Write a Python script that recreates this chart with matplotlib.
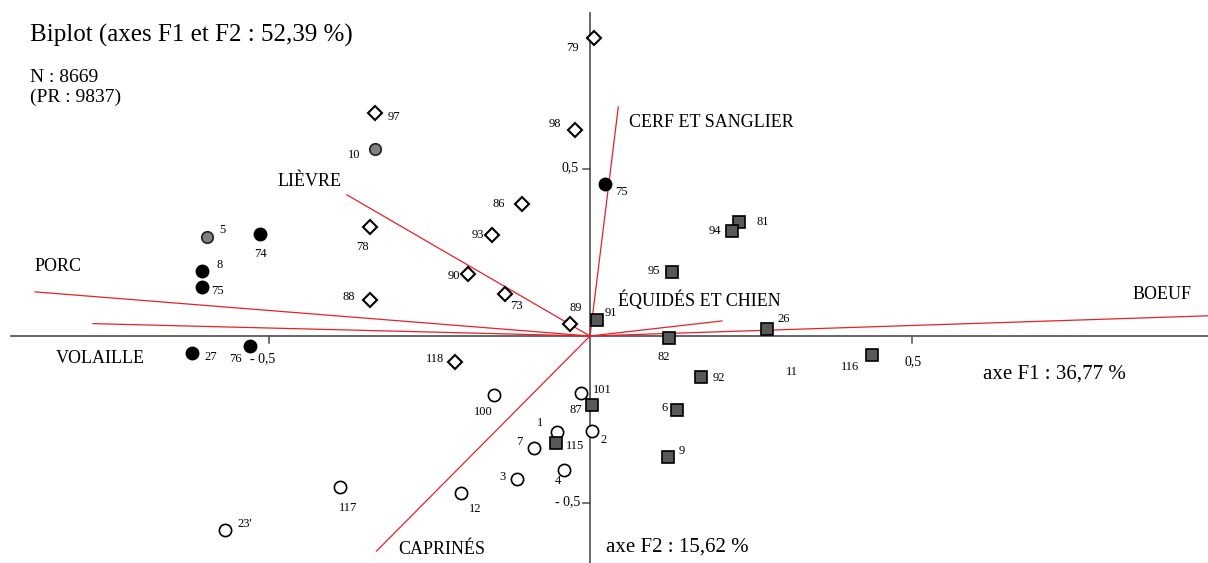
import matplotlib.pyplot as plt

plt.rcParams["font.family"] = "Liberation Serif"

# --- echantillons (coordonnees F1, F2) ---
noir_lab = ["74", "8", "75", "27", "76", "75"]
noir_f1 = [-0.513, -0.604, -0.604, -0.619, -0.529, 0.023]
noir_f2 = [0.304, 0.195, 0.146, -0.052, -0.029, 0.454]

gris_lab = ["5", "10"]
gris_f1 = [-0.595, -0.334]
gris_f2 = [0.295, 0.558]

losange_lab = ["97", "79", "98", "86", "93", "78", "90", "73", "88", "89", "118"]
losange_f1 = [-0.335, 0.006, -0.023, -0.106, -0.153, -0.342, -0.189, -0.132, -0.342, -0.031, -0.210]
losange_f2 = [0.668, 0.892, 0.616, 0.396, 0.301, 0.327, 0.185, 0.126, 0.108, 0.035, -0.079]

cercle_lab = ["101", "100", "1", "2", "7", "4", "3", "12", "117", "23'"]
cercle_f1 = [-0.014, -0.150, -0.052, 0.003, -0.087, -0.040, -0.113, -0.201, -0.389, -0.568]
cercle_f2 = [-0.170, -0.176, -0.286, -0.284, -0.336, -0.402, -0.429, -0.469, -0.451, -0.580]

carre_lab = ["81", "94", "95", "91", "82", "26", "116", "92", "6", "9", "87", "115"]
carre_f1 = [0.231, 0.221, 0.127, 0.011, 0.123, 0.276, 0.438, 0.173, 0.135, 0.122, 0.003, -0.053]
carre_f2 = [0.340, 0.315, 0.192, 0.047, -0.005, 0.022, -0.057, -0.122, -0.221, -0.361, -0.206, -0.321]

# --- variables (extremites des vecteurs) ---
var_noms = ["BOEUF", "ÉQUIDÉS ET CHIEN", "CERF ET SANGLIER", "LIÈVRE", "PORC", "VOLAILLE", "CAPRINÉS"]
var_f1 = [0.970, 0.205, 0.044, -0.378, -0.863, -0.773, -0.332]
var_f2 = [0.061, 0.045, 0.685, 0.422, 0.132, 0.037, -0.643]

# position des textes (decalages en pixels, mise en page seulement)
noir_off = [(0, -20), (18, 6), (16, -4), (19, -4), (-14, -13), (17, -8)]
gris_off = [(15, 7), (-21, -6)]
losange_off = [(19, -4), (-21, -10), (-20, 6), (-23, 0), (-14, 0), (-8, -20),
               (-15, -2), (11, -12), (-21, 3), (6, 16), (-20, 3)]
cercle_off = [(21, 3), (-10, -17), (-17, 9), (12, -9), (-15, 6), (-6, -11),
              (-15, 2), (14, -16), (8, -21), (20, 6)]
carre_off = [(24, 0), (-17, 0), (-18, 1), (14, 7), (-5, -19), (16, 10),
             (-22, -12), (18, -1), (-12, 2), (13, 6), (-16, -5), (19, -3)]
var_txt = [(0.890, 0.123, "center"), (0.170, 0.106, "center"), (0.060, 0.638, "left"),
           (-0.437, 0.461, "center"), (-0.827, 0.209, "center"), (-0.762, -0.067, "center"),
           (-0.230, -0.637, "center")]

fig = plt.figure(figsize=(12.08, 5.63), dpi=100)
ax = fig.add_axes([0, 0, 1, 1])
ax.set_xlim(-0.9176, 0.9611)
ax.set_ylim(-0.6788, 1.0048)
ax.axis("off")

axe_col = "#4d4d4d"
ax.plot([-0.900, 0.9611], [0, 0], color=axe_col, lw=1.2, zorder=1)
ax.plot([0, 0], [-0.6788, 0.966], color=axe_col, lw=1.2, zorder=1)
# graduations
ax.plot([0.5, 0.5], [0, -0.02], color=axe_col, lw=1.1)
ax.plot([-0.5, -0.5], [0, -0.02], color=axe_col, lw=1.1)
ax.plot([-0.011, 0], [0.5, 0.5], color=axe_col, lw=1.1)
ax.plot([-0.011, 0], [-0.5, -0.5], color=axe_col, lw=1.1)
ax.text(0.503, -0.078, "0,5", fontsize=10, ha="center", va="center")
ax.text(-0.509, -0.067, "- 0,5", fontsize=10, ha="center", va="center")
ax.text(-0.017, 0.502, "0,5", fontsize=10, ha="right", va="center")
ax.text(-0.015, -0.496, "- 0,5", fontsize=10, ha="right", va="center")

# vecteurs des variables
for vx, vy, nom, (tx, ty, ha) in zip(var_f1, var_f2, var_noms, var_txt):
    ax.plot([0, vx], [0, vy], color="#e8202a", lw=0.9, zorder=2)
    ax.text(tx, ty, nom, fontsize=13, ha=ha, va="center")


def groupe(f1, f2, labs, offs, **style):
    ax.plot(f1, f2, ls="none", zorder=3, **style)
    for lab, x, y, (dx, dy) in zip(labs, f1, f2, offs):
        ax.annotate(lab, (x, y), xytext=(dx, dy), textcoords="offset pixels",
                    ha="center", va="center", fontsize=9)


groupe(noir_f1, noir_f2, noir_lab, noir_off, marker="o", ms=9, mfc="black", mec="black")
groupe(gris_f1, gris_f2, gris_lab, gris_off, marker="o", ms=8.3, mfc="#808080", mec="#222222", mew=1.2)
groupe(losange_f1, losange_f2, losange_lab, losange_off, marker="D", ms=7.6, mfc="white", mec="black", mew=1.5)
groupe(cercle_f1, cercle_f2, cercle_lab, cercle_off, marker="o", ms=8.8, mfc="white", mec="black", mew=1.2)
groupe(carre_f1, carre_f2, carre_lab, carre_off, marker="s", ms=8.2, mfc="#595959", mec="black", mew=1.2)
ax.text(0.314, -0.107, "11", fontsize=9, ha="center", va="center")

ax.text(0.722, -0.114, "axe F1 : 36,77 %", fontsize=15, ha="center", va="center")
ax.text(0.135, -0.631, "axe F2 : 15,62 %", fontsize=15, ha="center", va="center")

fig.text(30 / 1208, 1 - 35 / 563, "Biplot (axes F1 et F2 : 52,39 %)", fontsize=18, va="center")
fig.text(30 / 1208, 1 - 78 / 563, "N : 8669", fontsize=14, va="center")
fig.text(30 / 1208, 1 - 97 / 563, "(PR : 9837)", fontsize=14, va="center")

fig.savefig("out.png", dpi=100)
